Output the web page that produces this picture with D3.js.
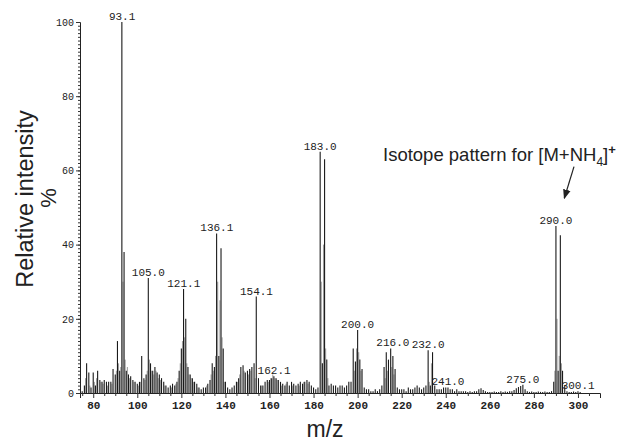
<!DOCTYPE html>
<html>
<head>
<meta charset="utf-8">
<script src="https://cdn.jsdelivr.net/npm/d3@7"></script>
<style>
  body { margin: 0; background: #fff; }
  svg { display: block; }
  .tick text { font-family: "Liberation Mono", "DejaVu Sans Mono", monospace; }
</style>
</head>
<body>
<div id="chart"></div>
<script>
// main sticks (integer m/z)
var mz = [75,76,77,78,79,80,81,82,83,84,85,86,87,88,89,90,91,92,93,94,95,96,97,98,99,100,
  101,102,103,104,105,106,107,108,109,110,111,112,113,114,115,116,117,118,119,120,
  121,122,123,124,125,126,127,128,129,130,131,132,133,134,135,136,137,138,139,140,
  141,142,143,144,145,146,147,148,149,150,151,152,153,154,155,156,157,158,159,160,
  161,162,163,164,165,166,167,168,169,170,171,172,173,174,175,176,177,178,179,180,
  181,182,183,184,185,186,187,188,189,190,191,192,193,194,195,196,197,198,199,200,
  201,202,203,204,205,206,207,208,209,210,211,212,213,214,215,216,217,218,219,220,
  221,222,223,224,225,226,227,228,229,230,231,232,233,234,235,236,237,238,239,240,
  241,242,243,244,245,246,247,248,249,250,251,252,253,254,255,256,257,258,259,260,
  261,262,263,264,265,266,267,268,269,270,271,272,273,274,275,276,277,278,279,280,
  281,282,283,284,285,286,287,288,289,290,291,292,293,294,295,296,297,298,299,300,301];
var intensity = [0.5,2,8,5.5,1.5,5.5,2,6,3.5,3,3.5,3,3,3,6.5,5,14,6,100,38,6,5,4.5,3.5,3,2.5,
  3,10,4,5,31,8,6,7,5.5,5,4,3,2,1.5,2,2.5,2,3,6,12,
  28,20,7,5,4,3,2.5,1.5,1,1.5,1.5,2.5,3.5,8,7,43,10,39,12,3,
  1.5,1,1.5,2,3,4,7,7.5,5.5,6,6.5,7,8,26,4,2,2,3,3.5,3.5,
  4,4.5,4,3.5,3,2.5,2,3,2,3,2.5,2,2.5,3,2.5,3,3.5,3,2,1.5,
  1,1.5,65,8,63,9,2,2.5,2,2,1.5,2,2,1.5,2,3,3,12,8.5,17,
  9,6.5,1.5,1,1,0.5,0.5,1,0.5,1,2,7,11,9,12,10,6.5,1.5,1,1,
  1,0.5,1.5,1,1,1.5,2,1.5,1,1.5,2,11.5,2,11,2,1,1,1,1.5,1.5,
  1.5,1,1,0.5,1,0.5,0.5,0.5,0.5,0.3,0.5,0.3,0.5,0.5,1,1.3,0.8,0.5,0.3,0.3,
  0.3,0.4,0.3,0.3,0.5,0.3,0.4,0.3,0.5,0.5,0.8,1.3,1.6,1.9,2.2,1,0.5,0.3,0.4,0.3,
  0.3,0.4,0.3,0.3,0.4,0.3,0.3,0.5,3,45,6,42.5,6,2,0.5,0.3,0.3,0.4,0.3,0.5,0.3];

// lighter in-between sticks (grey in the scan)
var mzGrey = [76.5,78.5,80.5,81.5,83.5,84.5,86.5,88.5,90.5,91.5,92.5,93.5,94.5,95.5,96.5,98.5,
  100.5,101.5,103.5,104.5,105.5,106.5,107.5,108.5,109.5,110.5,112.5,115.5,117.5,118.5,119.5,
  120.5,121.5,122.5,123.5,124.5,125.5,127.5,131.5,133.5,134.5,135.5,136.5,137.5,138.5,139.5,
  145.5,146.5,148.5,150.5,151.5,153.5,156.5,159.5,160.5,161.5,162.5,163.5,165.5,167.5,170.5,
  173.5,175.5,177.5,183.5,184.5,185.5,186.5,198.5,199.5,200.5,201.5,212.5,213.5,215.5,216.5,
  232.5,233.5,289.5,290.5,291.5,292.5];
var intensityGrey = [4,2,3,4,3,2.5,2,2.5,6,8,7,30,9,7,4,3,
  2,3,3.5,6,9,6,5,6,4,3.5,2,1.5,2.5,4,8,
  14,15,8,5,4,3,1.5,2,5,6,10,30,25,15,3,
  3,5,6,5,6,4,2,3,4,5,4,3.5,2,2.5,2,
  2,3,2.5,30,40,12,4,6,12,11,6,4,6,7,5,
  3,8,6,20,10,8];

// labelled peaks
var peakLabels = [93.1,105.0,121.1,136.1,154.1,162.1,183.0,200.0,216.0,232.0,241.0,275.0,290.0,300.1];

var xTicks = [80,100,120,140,160,180,200,220,240,260,280,300];
var xMinor = [75,85,90,95,105,110,115,125,130,135,145,150,155,165,170,175,185,190,195,205,210,215,
  225,230,235,245,250,255,265,270,275,285,290,295,305];
var yTicks = [0,20,40,60,80,100];

var width = 619, height = 443;
var svg = d3.select("#chart").append("svg")
  .attr("width", width)
  .attr("height", height);

var x = d3.scaleLinear().domain([74, 310]).range([80, 600]);
var y = d3.scaleLinear().domain([0, 100]).range([393, 22]);

// sticks
var sticks = mz.map(function(d, i) { return { m: d, v: intensity[i] }; });
var greySticks = mzGrey.map(function(d, i) { return { m: d, v: intensityGrey[i] }; });

svg.append("g").selectAll("line")
  .data(greySticks)
  .enter().append("line")
  .attr("x1", function(d) { return x(d.m); })
  .attr("x2", function(d) { return x(d.m); })
  .attr("y1", y(0))
  .attr("y2", function(d) { return y(d.v); })
  .attr("stroke", "#9a9a9a")
  .attr("stroke-width", 1);

svg.append("g").selectAll("line")
  .data(sticks)
  .enter().append("line")
  .attr("x1", function(d) { return x(d.m); })
  .attr("x2", function(d) { return x(d.m); })
  .attr("y1", y(0))
  .attr("y2", function(d) { return y(d.v); })
  .attr("stroke", "#1a1a1a")
  .attr("stroke-width", 1.1);

// axes
var xAxis = svg.append("g")
  .attr("transform", "translate(0," + y(0) + ")")
  .call(d3.axisBottom(x).tickValues(xTicks).tickSize(5).tickPadding(3).tickFormat(d3.format("d")));
xAxis.selectAll("text").attr("font-size", 11).attr("font-weight", "bold").attr("fill", "#222");
svg.append("g")
  .attr("transform", "translate(0," + y(0) + ")")
  .call(d3.axisBottom(x).tickValues(xMinor).tickSize(3).tickFormat(""))
  .select(".domain").remove();

var yAxis = svg.append("g")
  .attr("transform", "translate(" + x(74) + ",0)")
  .call(d3.axisLeft(y).tickValues(yTicks).tickSize(4).tickPadding(2).tickFormat(d3.format("d")));
yAxis.selectAll("text").attr("font-size", 10).attr("fill", "#222");
svg.append("g")
  .attr("transform", "translate(" + x(74) + ",0)")
  .call(d3.axisLeft(y).tickValues(d3.range(0, 101, 1)).tickSize(2).tickFormat(""))
  .select(".domain").remove();

svg.selectAll(".domain").attr("stroke", "#222");
svg.selectAll(".tick line").attr("stroke", "#333");

// peak labels
function peakTop(m) {
  var best = 0;
  sticks.forEach(function(d) { if (Math.abs(d.m - m) <= 1.2 && d.v > best) best = d.v; });
  return best;
}
svg.append("g").selectAll("text")
  .data(peakLabels)
  .enter().append("text")
  .attr("x", function(d) { return x(d); })
  .attr("y", function(d) { return Math.min(y(peakTop(d)) - 2, 390); })
  .attr("text-anchor", "middle")
  .attr("font-family", "Liberation Mono, DejaVu Sans Mono, monospace")
  .attr("font-size", 11)
  .attr("fill", "#222")
  .text(function(d) { return d.toFixed(1); });

// titles
svg.append("text")
  .attr("transform", "translate(33,199) rotate(-90)")
  .attr("text-anchor", "middle")
  .attr("font-family", "Liberation Sans, Arial, sans-serif")
  .attr("font-size", 23.5)
  .attr("fill", "#222")
  .text("Relative intensity");

svg.append("text")
  .attr("transform", "translate(56,198) rotate(-90)")
  .attr("text-anchor", "middle")
  .attr("font-family", "Liberation Sans, Arial, sans-serif")
  .attr("font-size", 22)
  .attr("fill", "#222")
  .text("%");

svg.append("text")
  .attr("x", 325)
  .attr("y", 437)
  .attr("text-anchor", "middle")
  .attr("font-family", "Liberation Sans, Arial, sans-serif")
  .attr("font-size", 23)
  .attr("fill", "#222")
  .text("m/z");

// annotation
var note = svg.append("text")
  .attr("x", 383)
  .attr("y", 161)
  .attr("font-family", "Liberation Sans, Arial, sans-serif")
  .attr("font-size", 18.5)
  .attr("fill", "#222");
note.append("tspan").text("Isotope pattern for [M+NH");
note.append("tspan").attr("dy", 5).attr("font-size", 12).text("4");
note.append("tspan").attr("dy", -5).text("]");
note.append("tspan").attr("dy", -7).attr("font-size", 13).attr("font-weight", "bold").text("+");

svg.append("defs").append("marker")
  .attr("id", "head")
  .attr("viewBox", "0 0 10 10")
  .attr("refX", 9).attr("refY", 5)
  .attr("markerWidth", 8).attr("markerHeight", 8)
  .attr("orient", "auto")
  .append("path")
  .attr("d", "M0,1 L10,5 L0,9 Z")
  .attr("fill", "#222");

svg.append("line")
  .attr("x1", x(298.2)).attr("y1", y(61))
  .attr("x2", x(293.8)).attr("y2", y(52.5))
  .attr("stroke", "#222")
  .attr("stroke-width", 1.2)
  .attr("marker-end", "url(#head)");
</script>
</body>
</html>
